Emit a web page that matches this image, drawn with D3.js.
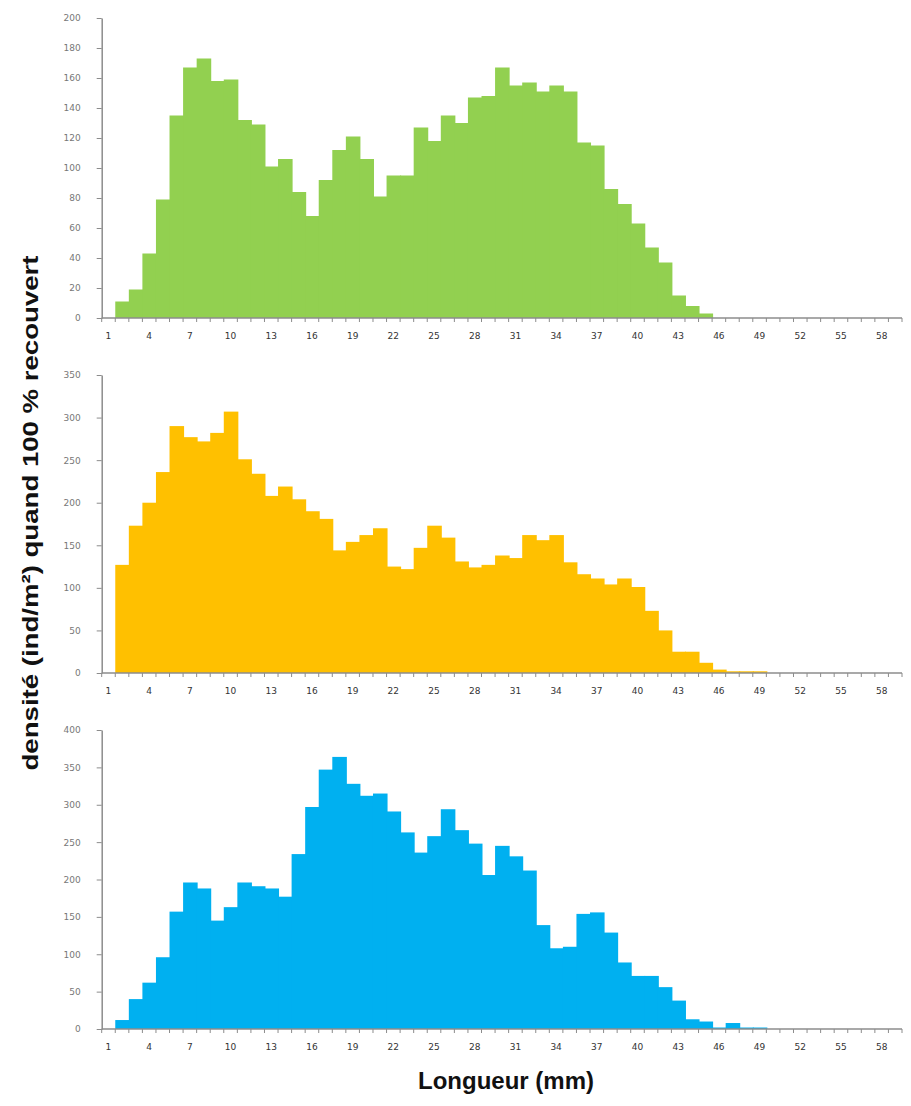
<!DOCTYPE html>
<html>
<head>
<meta charset="utf-8">
<script src="https://cdn.jsdelivr.net/npm/d3@7"></script>
<style>
  body { margin: 0; background: #fff; }
  svg text { font-family: "DejaVu Sans", sans-serif; }
</style>
</head>
<body>
<div id="app"></div>
<script>
// classes de longueur (mm)
const lengths = d3.range(1, 60);
const xLabels = [1, 4, 7, 10, 13, 16, 19, 22, 25, 28, 31, 34, 37, 40, 43, 46, 49, 52, 55, 58];

const greenValues = [0, 11, 19, 43, 79, 135, 167, 173, 158, 159, 132, 129, 101, 106, 84, 68, 92, 112, 121, 106,
  81, 95, 95, 127, 118, 135, 130, 147, 148, 167, 155, 157, 151, 155, 151, 117, 115, 86, 76, 63,
  47, 37, 15, 8, 3, 0, 0, 0, 0, 0, 0, 0, 0, 0, 0, 0, 0, 0, 0];
const orangeValues = [0, 127, 173, 200, 236, 290, 277, 272, 282, 307, 251, 234, 208, 219, 204, 190, 181, 144, 154, 162,
  170, 125, 122, 147, 173, 159, 131, 124, 127, 138, 135, 162, 156, 162, 130, 116, 111, 104, 111, 101,
  73, 50, 25, 25, 12, 4, 2, 2, 2, 0, 0, 0, 0, 0, 0, 0, 0, 0, 0];
const blueValues = [0, 12, 40, 62, 96, 157, 196, 188, 145, 163, 196, 191, 188, 177, 234, 297, 347, 364, 328, 312,
  315, 291, 263, 236, 258, 294, 266, 248, 206, 245, 231, 212, 139, 108, 110, 154, 156, 129, 89, 71,
  71, 56, 38, 13, 10, 2, 8, 2, 2, 0, 0, 0, 0, 0, 0, 0, 0, 0, 0];

const greenTicks = [0, 20, 40, 60, 80, 100, 120, 140, 160, 180, 200];
const orangeTicks = [0, 50, 100, 150, 200, 250, 300, 350];
const blueTicks = [0, 50, 100, 150, 200, 250, 300, 350, 400];

const width = 911;
const height = 1106;

const svg = d3
  .select('#app')
  .append('svg')
  .attr('width', width)
  .attr('height', height);

const x = d3.scaleBand().domain(lengths).range([101.7, 902]).padding(0);

const panels = [
  { values: greenValues, ticks: greenTicks, max: 200, top: 18, bottom: 318, color: '#92d050' },
  { values: orangeValues, ticks: orangeTicks, max: 350, top: 375, bottom: 673, color: '#ffc000' },
  { values: blueValues, ticks: blueTicks, max: 400, top: 730, bottom: 1029, color: '#00b0f0' },
];

panels.forEach((p) => {
  const y = d3.scaleLinear().domain([0, p.max]).range([p.bottom, p.top]);
  const g = svg.append('g');

  // barres (histogramme sans espace), un peu plus larges pour cacher les joints
  g.selectAll('rect')
    .data(lengths)
    .enter()
    .append('rect')
    .attr('x', (d) => x(d))
    .attr('width', x.bandwidth() + 1)
    .attr('y', (d, i) => y(p.values[i]))
    .attr('height', (d, i) => p.bottom - y(p.values[i]))
    .attr('fill', p.color);

  // axe vertical
  const yAxis = g
    .append('g')
    .attr('transform', `translate(${x.range()[0]},0)`)
    .call(d3.axisLeft(y).tickValues(p.ticks).tickSize(5).tickSizeOuter(0).tickPadding(16));
  yAxis.select('.domain').attr('stroke', '#8c8c8c').attr('stroke-width', 1.5);
  yAxis.selectAll('.tick line').attr('stroke', '#8c8c8c');
  yAxis.selectAll('.tick text').attr('fill', '#777').style('font-size', '9px');

  // axe horizontal
  g.append('line')
    .attr('x1', x.range()[0])
    .attr('x2', x.range()[1])
    .attr('y1', p.bottom)
    .attr('y2', p.bottom)
    .attr('stroke', '#8c8c8c')
    .attr('stroke-width', 1.5);

  const bounds = lengths.map((d) => x(d)).concat([x.range()[1]]);
  g.selectAll('.xtick')
    .data(bounds)
    .enter()
    .append('line')
    .attr('class', 'xtick')
    .attr('x1', (d) => d)
    .attr('x2', (d) => d)
    .attr('y1', p.bottom)
    .attr('y2', p.bottom + 4)
    .attr('stroke', '#8c8c8c');

  g.selectAll('.xlabel')
    .data(xLabels)
    .enter()
    .append('text')
    .attr('class', 'xlabel')
    .attr('x', (d) => x(d) + x.bandwidth() / 2)
    .attr('y', p.bottom + 21)
    .attr('text-anchor', 'middle')
    .attr('fill', '#333')
    .style('font-size', '9px')
    .text((d) => d);
});

// titres des axes
svg.append('text')
  .attr('transform', 'translate(38,513) rotate(-90)')
  .attr('text-anchor', 'middle')
  .style('font-family', '"Liberation Sans", Arial, sans-serif')
  .style('font-weight', 'bold')
  .style('font-size', '22px')
  .attr('fill', '#111')
  .attr('textLength', 515)
  .attr('lengthAdjust', 'spacingAndGlyphs')
  .text('densité (ind/m²) quand 100 % recouvert');

svg.append('text')
  .attr('x', 506)
  .attr('y', 1089)
  .attr('text-anchor', 'middle')
  .style('font-family', '"Liberation Sans", Arial, sans-serif')
  .style('font-weight', 'bold')
  .style('font-size', '24px')
  .attr('fill', '#111')
  .text('Longueur (mm)');
</script>
</body>
</html>
